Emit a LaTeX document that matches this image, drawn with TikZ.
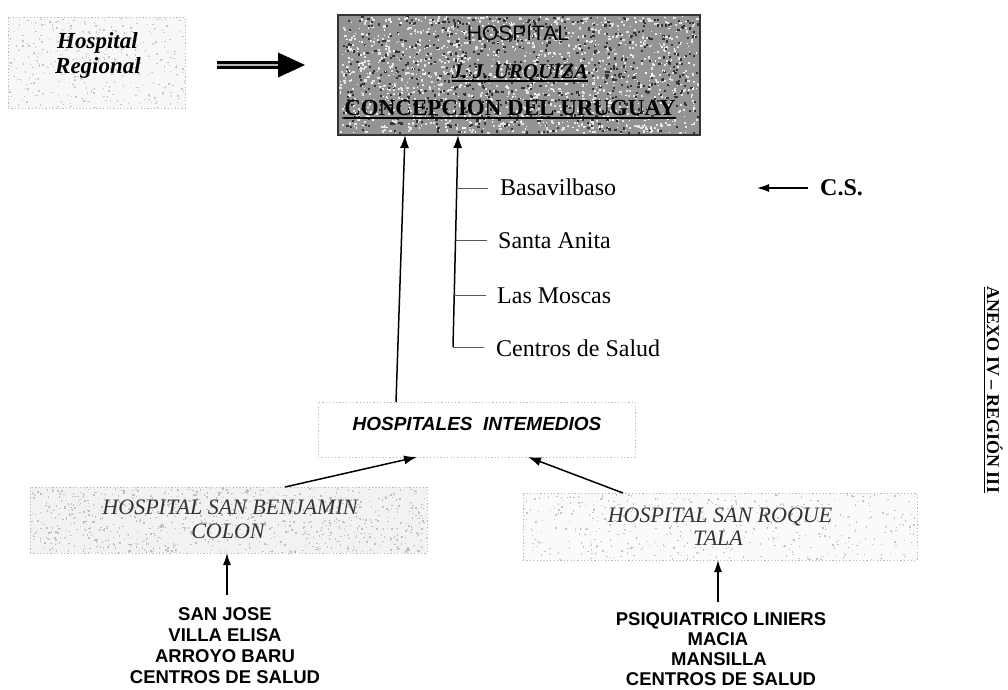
\documentclass[tikz,border=0pt]{standalone}
\usepackage{fontspec}
\setmainfont{Liberation Serif}
\setsansfont{Liberation Sans}
\usetikzlibrary{arrows.meta}
\newsavebox\ulbox
\newcommand\myul[2][1.3pt]{\sbox\ulbox{#2}\rlap{\rule[-3.5pt]{\wd\ulbox}{#1}}\usebox\ulbox}
\newcommand\myspeck[7]{\foreach \k in {1,...,#5}{\fill[#6] ({#1+#3*rnd},{#2+#4*rnd}) rectangle ++(#7,#7);}}
\begin{document}
\begin{tikzpicture}[x=1pt,y=-1pt,
  boxshape/.style={inner sep=0pt, outer sep=0pt, minimum width=#1},
  lightbox/.style={draw=gray!55, dash pattern=on 1.2pt off 2.2pt, line width=0.8pt},
  arr/.style={line width=1.5pt, -{Latex[length=13pt,width=9pt]}},
  thin arr/.style={line width=1.2pt, -{Latex[length=12pt,width=8pt]}},
  tick/.style={line width=1pt, gray!70!black},
  sertext/.style={anchor=base west, inner sep=0pt, font=\fontsize{24}{28}\selectfont},
  listtext/.style={anchor=base, inner sep=0pt, font=\sffamily\bfseries\fontsize{18.5}{21}\selectfont},
  italtext/.style={anchor=base, inner sep=0pt, font=\itshape\fontsize{22}{26}\selectfont, black!80},
]
\useasboundingbox (0,0) rectangle (1008,689);
\pgfmathsetseed{7}

% ---------- boxes ----------
\node[boxshape=177pt, minimum height=91pt, fill=gray!6, lightbox] (reg) at (96.5,62.5) {};
\myspeck{9}{18}{175}{89}{350}{gray!45}{1.4}

\node[boxshape=362pt, minimum height=120pt, fill=black!42] (main) at (519,75) {};
\myspeck{339}{16}{358}{116}{900}{white!80!gray}{2.2}
\myspeck{339}{16}{358}{116}{700}{black!80}{2.2}
\myspeck{339}{16}{358}{116}{600}{white}{1.2}
\draw[line width=1.4pt, black!80] (main.north west) rectangle (main.south east);

\node[boxshape=317pt, minimum height=55pt, fill=white, lightbox] (inter) at (476.5,429.5) {};

\node[boxshape=397pt, minimum height=66pt, fill=gray!10, lightbox] (ben) at (228.5,520) {};
\myspeck{31}{488}{395}{64}{900}{gray!50}{1.4}

\node[boxshape=394pt, minimum height=67pt, fill=gray!4, lightbox] (roq) at (720,526.5) {};
\myspeck{524}{494}{392}{65}{450}{gray!45}{1.4}

% ---------- texts ----------
\node[anchor=base, inner sep=0pt, font=\bfseries\itshape\fontsize{23}{26}\selectfont] (reg1) at (97.5,48) {Hospital};
\node[anchor=base, inner sep=0pt, font=\bfseries\itshape\fontsize{23}{26}\selectfont] (reg2) at (98,73) {Regional};

\node[anchor=base, inner sep=0pt, font=\sffamily\fontsize{21}{24}\selectfont] (m1) at (518,40) {HOSPITAL};
\node[anchor=base, inner sep=0pt, font=\bfseries\itshape\fontsize{21}{24}\selectfont] (m2) at (520,78) {\myul{J. J. URQUIZA}};
\node[anchor=base, inner sep=0pt, font=\bfseries\fontsize{23}{26}\selectfont] (m3) at (510,115) {\myul{CONCEPCION DEL URUGUAY}};

\node[sertext] (basa) at (500,195) {Basavilbaso};
\node[sertext] (santa) at (498,248) {Santa Anita};
\node[sertext] (moscas) at (497,303) {Las Moscas};
\node[sertext] (cds) at (496,356) {Centros de Salud};
\node[sertext, font=\bfseries\fontsize{24}{28}\selectfont] (cs) at (820,195) {C.S.};

\node[anchor=base, inner sep=0pt, font=\sffamily\bfseries\itshape\fontsize{19}{22}\selectfont] (intertext) at (477,430) {HOSPITALES\ \ INTEMEDIOS};

\node[italtext] (ben1) at (230,514) {HOSPITAL SAN BENJAMIN};
\node[italtext] (ben2) at (228,538) {COLON};
\node[italtext] (roq1) at (720,522) {HOSPITAL SAN ROQUE};
\node[italtext] (roq2) at (718,545) {TALA};

\node[listtext] (la1) at (225,620) {SAN JOSE};
\node[listtext] (la2) at (225,641) {VILLA ELISA};
\node[listtext] (la3) at (225,662) {ARROYO BARU};
\node[listtext] (la4) at (225,683) {CENTROS DE SALUD};

\node[listtext] (lb1) at (721,625) {PSIQUIATRICO LINIERS};
\node[listtext] (lb2) at (718,645) {MACIA};
\node[listtext] (lb3) at (719,665) {MANSILLA};
\node[listtext] (lb4) at (721,685) {CENTROS DE SALUD};

\node[anchor=center, inner sep=0pt, rotate=-90, font=\bfseries\fontsize{18}{21}\selectfont] (anexo) at (993,390) {\myul[1.1pt]{ANEXO IV -- REGIÓN III}};

% ---------- connectors ----------
% thick arrow Hospital Regional -> main
\coordinate (ta) at ([xshift=32pt]reg.east|-0,65);
\coordinate (tb) at ([xshift=-33pt]main.west|-0,65);
\draw[line width=2.4pt, double=gray!55, double distance=2.4pt] (ta) -- ([xshift=-24pt]tb);
\fill ([xshift=-27pt,yshift=-12.5pt]tb) -- (tb) -- ([xshift=-27pt,yshift=12.5pt]tb) -- cycle;

% intermedios -> main
\draw[arr] ([xshift=-80.5pt]inter.north) -- ([xshift=-114pt]main.south);
% branch of centres -> main
\coordinate (bend) at (453,347);
\draw[arr] (bend) -- ([xshift=-61pt]main.south);
\draw[tick] (456.7,188) -- ([xshift=-12pt,yshift=7pt]basa.base west);
\draw[tick] (455.5,240) -- ([xshift=-11pt,yshift=8pt]santa.base west);
\draw[tick] (454.2,295) -- ([xshift=-11pt,yshift=8pt]moscas.base west);
\draw[tick] (bend) -- ([xshift=-12pt,yshift=9pt]cds.base west);

% C.S. arrow
\coordinate (csend) at (757,188);
\draw[thin arr] ([xshift=-12pt,yshift=7pt]cs.base west) -- (csend);

% lower hospitals -> intermedios
\draw[arr] ([xshift=56.5pt]ben.north) -- ([xshift=-59.5pt]inter.south);
\draw[arr] ([xshift=-97pt]roq.north) -- ([xshift=51.5pt]inter.south);

% lists -> hospitals
\draw[thin arr] ([xshift=2pt,yshift=25pt]la1.base) -- (ben.south-|227,0);
\draw[thin arr] ([xshift=-3pt,yshift=23pt]lb1.base) -- (roq.south-|718,0);
\end{tikzpicture}
\end{document}
